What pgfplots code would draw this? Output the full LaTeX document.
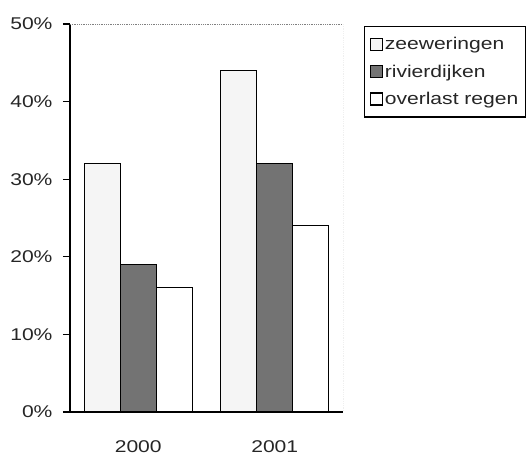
\documentclass[border=0pt]{standalone}
\usepackage{fontspec}
\setmainfont{Liberation Sans}[FakeStretch=1.24]
\usepackage{pgfplots}
\pgfplotsset{compat=1.18}
\begin{document}
\begin{tikzpicture}[font=\fontsize{17bp}{20bp}\selectfont]
\useasboundingbox (0,0) rectangle (529bp,455bp);
\begin{axis}[
  at={(70bp,43bp)}, anchor=south west,
  scale only axis, width=273bp, height=388bp,
  ybar=0pt, bar width=36bp,
  xmin=-0.5, xmax=1.5, ymin=0, ymax=50,
  axis lines*=left,
  axis line style={black, line width=1.2bp},
  xtick=data, xticklabels={2000,2001},
  xtick style={draw=none},
  xticklabel style={yshift=-18bp, text=black!85},
  ytick={0,10,20,30,40,50},
  yticklabel={\pgfmathprintnumber{\tick}\%},
  yticklabel style={xshift=-7bp, text=black!85},
  ytick style={black, line width=1.2bp},
  tick align=outside, major tick length=7bp,
  /pgf/number format/assume math mode=true,
  legend style={at={(axis description cs:1.077,0.995)}, anchor=north west,
    draw=black, line width=1.2bp, inner xsep=5bp, inner ysep=9bp,
    row sep=9.5bp, font=\fontsize{17bp}{20bp}\selectfont, text=black!85,
    legend cell align=left},
  legend image code/.code={\draw[#1, line width=1.2bp] (0bp,-6bp) rectangle (12bp,6bp);},
  every axis plot/.append style={draw=black, line width=1.2bp},
]
\addplot[fill=black!4] coordinates {(0,32) (1,44)};
\addplot[fill=black!55] coordinates {(0,19) (1,32)};
\addplot[fill=white] coordinates {(0,16) (1,24)};
\legend{zeeweringen, rivierdijken, overlast regen\hspace{20bp}}
\draw[densely dotted, black!50, line width=0.8bp] (rel axis cs:0,1) -- (rel axis cs:1,1) -- (rel axis cs:1,0);
\end{axis}
\end{tikzpicture}
\end{document}
